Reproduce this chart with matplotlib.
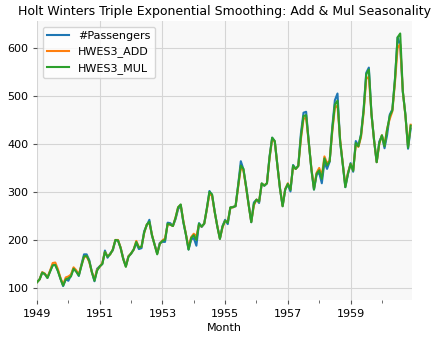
import numpy as np
import matplotlib
matplotlib.use("Agg")
import matplotlib.pyplot as plt
from matplotlib.ticker import MultipleLocator

start_year = 1949
passengers = [
    112, 118, 132, 129, 121, 135, 148, 148, 136, 119, 104, 118,
    115, 126, 141, 135, 125, 149, 170, 170, 158, 133, 114, 140,
    145, 150, 178, 163, 172, 178, 199, 199, 184, 162, 146, 166,
    171, 180, 193, 181, 183, 218, 230, 242, 209, 191, 172, 194,
    196, 196, 236, 235, 229, 243, 264, 272, 237, 211, 180, 201,
    204, 188, 235, 227, 234, 264, 302, 293, 259, 229, 203, 229,
    242, 233, 267, 269, 270, 315, 364, 347, 312, 274, 237, 278,
    284, 277, 317, 313, 318, 374, 413, 405, 355, 306, 271, 306,
    315, 301, 356, 348, 355, 422, 465, 467, 404, 347, 305, 336,
    340, 318, 362, 348, 363, 435, 491, 505, 404, 359, 310, 337,
    360, 342, 406, 396, 420, 472, 548, 559, 463, 407, 362, 405,
    417, 391, 419, 461, 472, 535, 622, 606, 508, 461, 390, 432,
]
hwes3_add = [
    112, 118, 133, 130, 122, 136, 152, 153, 139, 121, 107, 122,
    124, 128, 143, 137, 128, 147, 164, 166, 154, 133, 118, 138,
    144, 152, 175, 166, 170, 180, 200, 200, 184, 161, 145, 166,
    172, 180, 198, 185, 186, 214, 232, 236, 211, 190, 172, 192,
    199, 203, 232, 232, 229, 246, 268, 273, 240, 212, 184, 206,
    213, 208, 232, 228, 234, 264, 296, 292, 258, 229, 203, 226,
    240, 237, 267, 268, 271, 310, 350, 345, 310, 273, 238, 272,
    284, 280, 317, 314, 318, 370, 410, 405, 355, 308, 271, 306,
    318, 306, 352, 348, 354, 410, 452, 455, 403, 350, 308, 340,
    350, 334, 374, 360, 365, 425, 475, 480, 410, 360, 313, 340,
    358, 345, 398, 394, 414, 465, 535, 540, 462, 408, 362, 400,
    418, 398, 432, 452, 468, 528, 600, 608, 510, 458, 395, 440,
]
hwes3_mul = [
    112, 118, 132, 129, 121, 134, 147, 148, 135, 119, 105, 118,
    120, 124, 140, 134, 126, 146, 166, 167, 156, 133, 115, 136,
    145, 150, 175, 165, 170, 180, 200, 199, 183, 160, 144, 165,
    172, 180, 196, 184, 186, 215, 232, 238, 210, 190, 170, 192,
    198, 200, 234, 232, 229, 246, 268, 274, 238, 211, 180, 204,
    210, 200, 234, 228, 234, 266, 300, 295, 259, 228, 202, 228,
    240, 236, 268, 268, 271, 314, 355, 348, 312, 273, 237, 275,
    284, 280, 318, 313, 318, 372, 413, 406, 355, 307, 270, 305,
    317, 304, 355, 348, 354, 415, 458, 460, 404, 348, 305, 338,
    345, 327, 370, 355, 364, 430, 482, 490, 407, 358, 310, 338,
    358, 344, 402, 395, 418, 470, 545, 555, 463, 408, 362, 402,
    418, 395, 430, 458, 470, 535, 622, 630, 510, 460, 392, 438,
]
year_labels = ["1949", "1951", "1953", "1955", "1957", "1959"]

x = start_year + np.arange(len(passengers)) / 12.0

fig = plt.figure(figsize=(4.36, 3.38), dpi=100)
top_px, bot_px = 21, 299.5
ax = fig.add_axes([37/436, 1 - bot_px/338, (411.7-37)/436, (bot_px-top_px)/338])
ax.set_facecolor("#f8f8f8")
for s in ax.spines.values():
    s.set_visible(False)

ax.plot(x, passengers, color="#1f77b4", lw=1.5, label="#Passengers")
ax.plot(x, hwes3_add, color="#ff7f0e", lw=1.5, label="HWES3_ADD")
ax.plot(x, hwes3_mul, color="#2ca02c", lw=1.5, label="HWES3_MUL")

ax.set_xlim(1949, 1960.95)
ax.set_ylim(76, 656)
ax.set_xticks([int(y) for y in year_labels])
ax.set_xticklabels(year_labels)
ax.xaxis.set_minor_locator(MultipleLocator(1))
ax.set_yticks([100, 200, 300, 400, 500, 600])
ax.grid(True, which="major", color="#d5d5d5", lw=0.8)
ax.set_axisbelow(True)
ax.tick_params(axis="both", which="major", labelsize=8, length=3, color="#555555", pad=3)
ax.tick_params(axis="x", which="major", pad=4)
ax.tick_params(axis="x", which="minor", length=2, color="#555555")
ax.set_xlabel("Month", fontsize=8, labelpad=3)
ax.set_title("Holt Winters Triple Exponential Smoothing: Add & Mul Seasonality", fontsize=9, pad=4)
leg = ax.legend(loc="upper left", fontsize=8, frameon=True, facecolor="white", edgecolor="#cccccc")

fig.savefig("out.png", dpi=100)
